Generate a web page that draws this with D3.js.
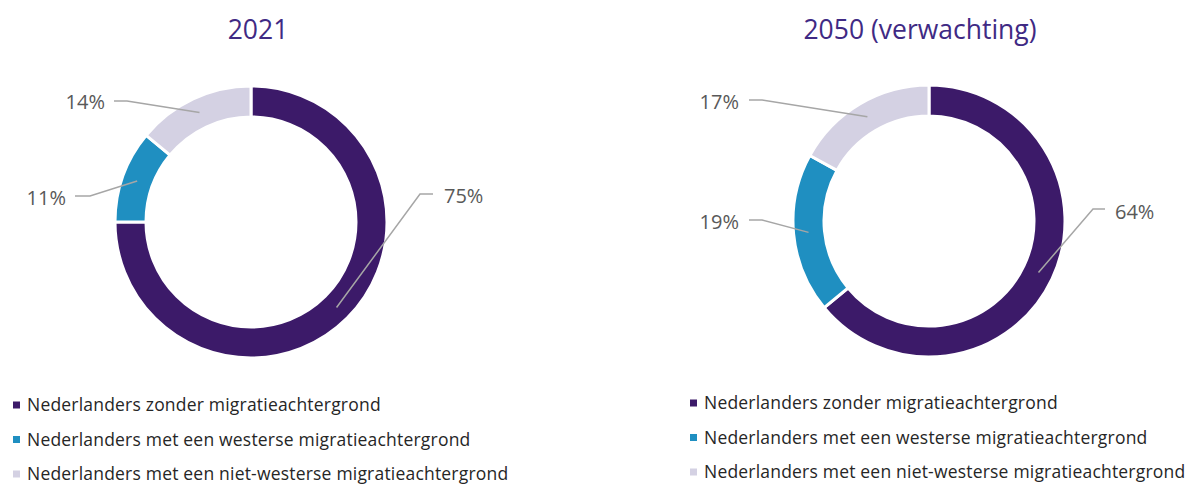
<!DOCTYPE html>
<html>
<head>
<meta charset="utf-8">
<script src="https://cdn.jsdelivr.net/npm/d3@7"></script>
<style>
  body { margin: 0; background: #fff; }
  text { font-family: "Open Sans", sans-serif; }
</style>
</head>
<body>
<div id="plot"></div>
<script>
// data
let categories = ['Nederlanders zonder migratieachtergrond',
                  'Nederlanders met een westerse migratieachtergrond',
                  'Nederlanders met een niet-westerse migratieachtergrond'];
let titles = ['2021', '2050 (verwachting)'];
let values2021 = [75, 11, 14];
let values2050 = [64, 19, 17];
let colors = ['#3c1a69', '#1f8fc1', '#d4d1e3'];

// layout (label anchor + elbow per slice)
let charts = [
  { title: titles[0], values: values2021, cx: 251, cy: 222, titleX: 258, legendX: 13, legendY: 405,
    labels: [ {x: 444, y: 196, ex: 420, ey: 194, hx: 433, anchor: 'start'},
              {x: 66,  y: 198, ex: 90,  ey: 196, hx: 75,  anchor: 'end'},
              {x: 105, y: 102, ex: 127, ey: 101, hx: 114, anchor: 'end'} ] },
  { title: titles[1], values: values2050, cx: 929, cy: 221, titleX: 920, legendX: 690, legendY: 403,
    labels: [ {x: 1115, y: 212, ex: 1093, ey: 209, hx: 1105, anchor: 'start'},
              {x: 739,  y: 222, ex: 762,  ey: 220, hx: 749,  anchor: 'end'},
              {x: 739,  y: 102, ex: 762,  ey: 100, hx: 749,  anchor: 'end'} ] }
];

let [ W, H ] = [1200, 484];
let svg = d3.select('#plot').append('svg').attr('width', W).attr('height', H);

let pie = d3.pie().sort(null).value(d => d);
let arc = d3.arc().innerRadius(105).outerRadius(136);
let midArc = d3.arc().innerRadius(121).outerRadius(121);

charts.forEach(ch => {
  let g = svg.append('g').attr('transform', `translate(${ch.cx},${ch.cy})`);
  let slices = pie(ch.values);

  g.selectAll('path.slice').data(slices).join('path')
    .attr('class', 'slice')
    .attr('d', arc)
    .attr('fill', (d, i) => colors[i])
    .attr('stroke', '#fff')
    .attr('stroke-width', 3);

  // leader lines + percent labels
  slices.forEach((d, i) => {
    let lab = ch.labels[i];
    let [px, py] = midArc.centroid(d);
    let pts = [[px + ch.cx, py + ch.cy], [lab.ex, lab.ey], [lab.hx, lab.ey]];
    svg.append('path')
      .attr('d', d3.line()(pts))
      .attr('fill', 'none')
      .attr('stroke', '#a6a6a6')
      .attr('stroke-width', 1.5);
    svg.append('text')
      .attr('x', lab.x).attr('y', lab.y)
      .attr('dy', '0.35em')
      .attr('text-anchor', lab.anchor)
      .attr('font-size', 20)
      .attr('fill', '#595959')
      .text(d.data + '%');
  });

  svg.append('text')
    .attr('x', ch.titleX).attr('y', 30)
    .attr('dy', '0.35em')
    .attr('text-anchor', 'middle')
    .attr('font-size', 26.5)
    .attr('fill', '#3f2a84')
    .text(ch.title);

  // legend
  let lg = svg.append('g').attr('transform', `translate(${ch.legendX},${ch.legendY})`);
  categories.forEach((c, i) => {
    lg.append('rect')
      .attr('x', 0).attr('y', i * 34.5 - 3.5)
      .attr('width', 7).attr('height', 7)
      .attr('fill', colors[i]);
    lg.append('text')
      .attr('x', 14).attr('y', i * 34.5)
      .attr('dy', '0.35em')
      .attr('font-size', 17.5)
      .attr('letter-spacing', 0.2)
      .attr('fill', '#262626')
      .text(c);
  });
});
</script>
</body>
</html>
